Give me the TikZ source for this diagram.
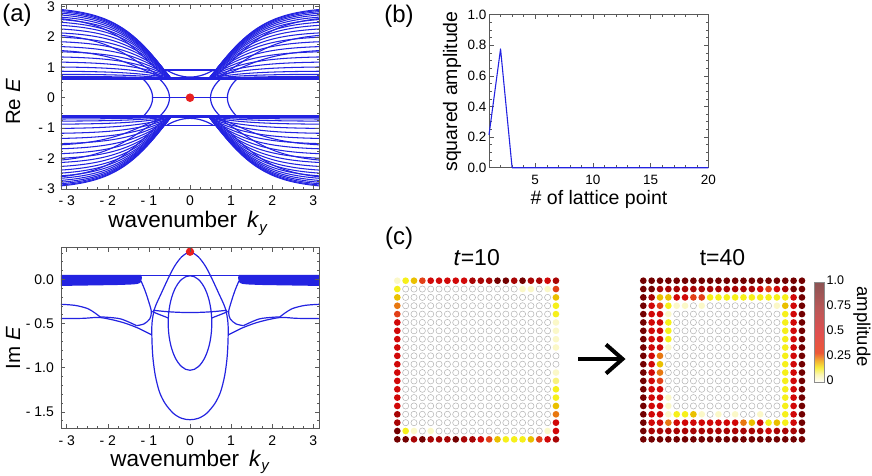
\documentclass[tikz,border=0pt]{standalone}
\usepackage{fontspec}
\setmainfont{Liberation Sans}
\definecolor{bl}{RGB}{35,35,225}
\definecolor{rd}{RGB}{232,32,32}
\definecolor{fr}{gray}{0.35}
\definecolor{lv1}{HTML}{FBF8C8}
\definecolor{lv2}{HTML}{F6F01A}
\definecolor{lv3}{HTML}{EAC000}
\definecolor{lv4}{HTML}{E87810}
\definecolor{lv5}{HTML}{E24018}
\definecolor{lv6}{HTML}{D10808}
\definecolor{lv7}{HTML}{A80404}
\definecolor{lv8}{HTML}{730000}
\definecolor{lv9}{HTML}{F8F27C}
\definecolor{cb1}{HTML}{FBF6B8}
\definecolor{cb2}{HTML}{F7EE40}
\definecolor{cb3}{HTML}{F2B030}
\definecolor{cb4}{HTML}{EC5838}
\definecolor{cb5}{HTML}{E05050}
\definecolor{cb6}{HTML}{B85858}
\definecolor{cb7}{HTML}{8C5454}
\pgfdeclareverticalshading{cbar}{100bp}{color(0bp)=(white); color(25bp)=(white); color(29bp)=(cb1); color(32.5bp)=(cb2); color(36bp)=(cb3); color(40bp)=(cb4); color(50bp)=(cb5); color(62.5bp)=(cb6); color(75bp)=(cb7); color(100bp)=(cb7)}
\tikzset{
  bcurve/.style={bl, line width=1.2pt, line join=round},
  fancurve/.style={bl, line width=1.05pt, line join=round},
  frm/.style={fr, line width=0.6pt},
  tk/.style={fr, line width=0.5pt},
  ticklab/.style={font=\fontsize{14}{14}\selectfont, inner sep=0pt},
  ticklabb/.style={font=\fontsize{13.5}{13.5}\selectfont, inner sep=0pt},
  axlab/.style={font=\fontsize{22.5}{22.5}\selectfont, inner sep=0pt},
  aylab/.style={font=\fontsize{20.5}{20.5}\selectfont, inner sep=0pt},
  blab/.style={font=\fontsize{19.5}{19.5}\selectfont, inner sep=0pt},
  panlab/.style={font=\fontsize{24}{24}\selectfont, inner sep=0pt},
  emptydot/.style={draw=black!30, line width=0.5pt, fill=white},
  reddot/.style={fill=rd},
}
\newcommand\fanquad{%
  \foreach \A/\p in {2.30/1.00,2.27/0.99,2.23/0.99,2.18/0.98,2.12/0.97,2.05/0.96,1.97/0.94,1.88/0.93,1.78/0.91,1.66/0.89,1.53/0.87,1.39/0.84,1.24/0.82,1.08/0.79,0.91/0.76,0.74/0.73,0.57/0.70,0.41/0.67,0.27/0.65,0.17/0.63,0.10/0.62,1.45/1.6,0.95/1.5,2.0/1.35}{%
    \draw[fancurve] plot[domain=-3.1416:-0.46, samples=36, smooth] (\x,{0.6+\A*pow(tanh(0.74*(-\x-0.45))/0.963,\p)});
  }%
}
\newcommand\dotgrid[3]{%
  \foreach \rw [count=\r] in {#3}{%
    \foreach \v [count=\c] in \rw {%
      \ifnum\v=0
        \draw[emptydot] ({#1+(\c-1)*8.35},{#2+(\r-1)*8.35}) circle[radius=3.1];
      \else
        \fill[fill=lv\v] ({#1+(\c-1)*8.35},{#2+(\r-1)*8.35}) circle[radius=3.35];
      \fi
    }%
  }%
}
\begin{document}
\begin{tikzpicture}[x=1pt,y=-1pt]
\useasboundingbox (0,0) rectangle (872,475);

% ---------------- (a) Re E ----------------
\begin{scope}[shift={(190,97.7)}, x=41.1pt, y=30.4pt]
  \begin{scope}
    \clip (-3.1416,-3.02) rectangle (3.1416,3.06);
    \foreach \sx in {1,-1}{\foreach \sy in {1,-1}{
      \begin{scope}[xscale=\sx, yscale=\sy]
        \fanquad
      \end{scope}}}
    \foreach \sy in {1,-1}{
      \begin{scope}[yscale=\sy]
        \draw[bl, line width=3.2pt] (-3.1416,0.62) -- (3.1416,0.62);
        \draw[bcurve] (-0.6,0.91) -- (0.6,0.91);
        \draw[bcurve] plot[domain=-0.57:0.57, samples=25, smooth] (\x,{0.68+0.23*(\x/0.57)^2});
      \end{scope}}
    \foreach \sx in {1,-1}{
      \begin{scope}[xscale=\sx]
        \draw[bcurve] plot[domain=-0.62:0.62, samples=25, smooth] ({-0.91-0.22*(\x/0.6)^2},\x);
        \draw[bcurve] plot[domain=-0.62:0.62, samples=25, smooth] ({-0.50-0.23*(\x/0.6)^2},\x);
      \end{scope}}
    \draw[bcurve] (-0.91,0) -- (0.91,0);
  \end{scope}
  \fill[reddot] (0,0) circle[radius=4.3pt];
  \draw[frm] (-3.1416,-3.02) rectangle (3.1416,3.06);
  \draw[tk] \foreach \t in {-3,...,3}{(\t,3.06) -- ++(0,-4.5pt) (\t,-3.02) -- ++(0,4.5pt)};
  \draw[tk] \foreach \t in {-3,-2.75,...,3.01}{(\t,3.06) -- ++(0,-2.5pt) (\t,-3.02) -- ++(0,2.5pt)};
  \draw[tk] \foreach \t in {-3,...,3}{(-3.1416,\t) -- ++(4.5pt,0) (3.1416,\t) -- ++(-4.5pt,0)};
  \draw[tk] \foreach \t in {-3,-2.75,...,3.01}{(-3.1416,\t) -- ++(2.5pt,0) (3.1416,\t) -- ++(-2.5pt,0)};
\end{scope}

% ---------------- (a) Im E ----------------
\begin{scope}[shift={(190,279.3)}, x=41.1pt, y=88.3pt]
  \begin{scope}
    \clip (-3.1416,-1.687) rectangle (3.1416,0.362);
    \foreach \sx in {1,-1}{
      \begin{scope}[xscale=\sx]
        \fill[bl] (-3.1416,0.05) -- (-1.2,0.05) .. controls (-1.16,0.05) and (-1.16,-0.01) .. (-1.21,-0.04) .. controls (-1.25,-0.06) and (-1.5,-0.06) .. (-1.8,-0.065) -- (-3.1416,-0.075) -- cycle;
        \draw[bcurve] plot[smooth] coordinates {(-1.19,-0.02) (-1.1,-0.12) (-1.0,-0.26) (-0.94,-0.37) (-0.98,-0.45) (-1.12,-0.505) (-1.30,-0.525)};
        \draw[bcurve] plot[smooth] coordinates {(-3.1416,-0.283) (-2.8,-0.295) (-2.5,-0.33) (-2.3,-0.385) (-2.19,-0.425)};
        \draw[bcurve] plot[smooth] coordinates {(-3.1416,-0.445) (-2.6,-0.442) (-2.19,-0.433) (-1.7,-0.48) (-1.3,-0.545) (-0.93,-0.63)};
        \draw[bcurve] plot[smooth] coordinates {(-2.19,-0.425) (-1.7,-0.447) (-1.30,-0.525)};
        \draw[bcurve] (-0.92,-0.365) .. controls (-0.75,-0.4) and (-0.62,-0.42) .. (-0.52,-0.44);
      \end{scope}}
    \draw[bcurve] (-3.1416,0.045) -- (3.1416,0.045);
    \draw[bcurve] (-0.9,-0.35) .. controls (-0.3,-0.385) and (0.3,-0.385) .. (0.9,-0.35);
    \draw[bcurve] plot[smooth cycle] coordinates {(0,0.31) (0.2,0.255) (0.36,0.16) (0.5,0.04) (0.7,-0.16) (0.86,-0.33) (0.925,-0.5) (0.925,-0.7) (0.9,-0.9) (0.84,-1.1) (0.74,-1.28) (0.6,-1.41) (0.4,-1.52) (0.2,-1.575) (0,-1.59) (-0.2,-1.575) (-0.4,-1.52) (-0.6,-1.41) (-0.74,-1.28) (-0.84,-1.1) (-0.9,-0.9) (-0.925,-0.7) (-0.925,-0.5) (-0.86,-0.33) (-0.7,-0.16) (-0.5,0.04) (-0.36,0.16) (-0.2,0.255)};
    \draw[bcurve] (0,-0.495) ellipse [x radius=0.53, y radius=0.535];
  \end{scope}
  \fill[reddot] (0,0.3125) circle[radius=4.2pt];
  \draw[frm] (-3.1416,-1.687) rectangle (3.1416,0.362);
  \draw[tk] \foreach \t in {-3,...,3}{(\t,0.362) -- ++(0,-4.5pt) (\t,-1.687) -- ++(0,4.5pt)};
  \draw[tk] \foreach \t in {-3,-2.75,...,3.01}{(\t,0.362) -- ++(0,-2.5pt) (\t,-1.687) -- ++(0,2.5pt)};
  \draw[tk] \foreach \t in {-1.5,-1,...,0}{(-3.1416,\t) -- ++(4.5pt,0) (3.1416,\t) -- ++(-4.5pt,0)};
  \draw[tk] \foreach \t in {-1.6,-1.5,...,0.35}{(-3.1416,\t) -- ++(2.5pt,0) (3.1416,\t) -- ++(-2.5pt,0)};
\end{scope}

% tick labels (a)
\foreach \t/\lab in {-3/{- 3},-2/{- 2},-1/{- 1},0/0,1/1,2/2,3/3}{
  \node[ticklab] (xta\t) at ({190+41.1*\t},201) {\lab};
  \node[ticklab] (xtb\t) at ({190+41.1*\t},440.5) {\lab};
  \node[ticklab, anchor=east] (yta\t) at (55,{97.7-30.4*\t}) {\lab};
}
\foreach \t/\lab/\nm in {0/{0.0}/a,-0.5/{- 0.5}/b,-1/{- 1.0}/c,-1.5/{- 1.5}/d}{
  \node[ticklab, anchor=east] (ytb\nm) at (54,{279.3-88.3*\t}) {\lab};
}
\node[axlab, anchor=base] (xlabA) at (188,227.5) {wavenumber\hspace{0.45em}\textit{k}\raisebox{-0.22em}{\fontsize{15}{15}\selectfont\textit{y}}};
\node[axlab, anchor=base] (xlabB) at (190,466) {wavenumber\hspace{0.45em}\textit{k}\raisebox{-0.22em}{\fontsize{15}{15}\selectfont\textit{y}}};
\node[aylab, rotate=90, anchor=base] (ylabA) at (20,102) {Re \textit{E}};
\node[aylab, rotate=90, anchor=base] (ylabB) at (20,348) {Im \textit{E}};
\node[panlab] (pa) at (17,15) {(a)};

% ---------------- (b) ----------------
\begin{scope}[shift={(489,167.7)}, x=11.55pt, y=153.2pt]
  \draw[frm] (0,0) rectangle (19,1);
  \draw[tk] \foreach \t in {4,9,14,19}{(\t,0) -- ++(0,4.5pt) (\t,1) -- ++(0,-4.5pt)};
  \draw[tk] \foreach \t in {0,...,19}{(\t,0) -- ++(0,2.5pt) (\t,1) -- ++(0,-2.5pt)};
  \draw[tk] \foreach \t in {0,0.2,...,1.01}{(0,\t) -- ++(4.5pt,0) (19,\t) -- ++(-4.5pt,0)};
  \draw[tk] \foreach \t in {0,0.05,...,1.01}{(0,\t) -- ++(2.5pt,0) (19,\t) -- ++(-2.5pt,0)};
  \draw[bcurve, line width=1.1pt] (0,0.214) -- (1,0.775) -- (2,0) -- (19,0);
\end{scope}
\foreach \v/\lab [count=\i] in {0/{0.0},0.2/{0.2},0.4/{0.4},0.6/{0.6},0.8/{0.8},1/{1.0}}{
  \node[ticklabb, anchor=east] (ybt\i) at (486.5,{167.7-153.2*\v}) {\lab};
}
\foreach \n in {5,10,15,20}{
  \node[ticklabb] (xbt\n) at ({489+11.55*(\n-1)},179.5) {\n};
}
\node[blab, rotate=90, anchor=base] (ylabb) at (457,91.5) {squared amplitude};
\node[blab, anchor=base] (xlabb) at (599,204) {\# of lattice point};
\node[panlab] (pb) at (399,16) {(b)};

% ---------------- (c) ----------------
\node[panlab] (pc) at (399,238) {(c)};
\node[font=\fontsize{23}{23}\selectfont, inner sep=0pt, anchor=base] (t10) at (476.7,265) {\textit{t}=10};
\node[font=\fontsize{23}{23}\selectfont, inner sep=0pt, anchor=base] (t40) at (722.5,265) {t=40};

\dotgrid{397.3}{280.7}{
{1,2,3,5,6,6,6,6,6,7,7,7,8,8,7,8,7,7,6,7},
{2,0,0,0,0,0,0,0,0,0,0,0,0,0,0,1,1,0,1,5},
{3,0,0,0,0,0,0,0,0,0,0,0,0,0,0,0,0,0,0,3},
{4,0,0,0,0,0,0,0,0,0,0,0,0,0,0,0,0,0,0,2},
{5,0,0,0,0,0,0,0,0,0,0,0,0,0,0,0,0,0,0,2},
{6,0,0,0,0,0,0,0,0,0,0,0,0,0,0,0,0,0,0,1},
{6,0,0,0,0,0,0,0,0,0,0,0,0,0,0,0,0,0,0,1},
{6,0,0,0,0,0,0,0,0,0,0,0,0,0,0,0,0,0,0,1},
{6,0,0,0,0,0,0,0,0,0,0,0,0,0,0,0,0,0,0,1},
{6,0,0,0,0,0,0,0,0,0,0,0,0,0,0,0,0,0,0,0},
{6,0,0,0,0,0,0,0,0,0,0,0,0,0,0,0,0,0,0,0},
{6,0,0,0,0,0,0,0,0,0,0,0,0,0,0,0,0,0,0,1},
{6,0,0,0,0,0,0,0,0,0,0,0,0,0,0,0,0,0,0,9},
{6,0,0,0,0,0,0,0,0,0,0,0,0,0,0,0,0,0,0,2},
{6,0,0,0,0,0,0,0,0,0,0,0,0,0,0,0,0,0,0,2},
{6,0,0,0,0,0,0,0,0,0,0,0,0,0,0,0,0,0,0,3},
{7,0,0,0,0,0,0,0,0,0,0,0,0,0,0,0,0,0,0,4},
{7,0,0,0,0,0,0,0,0,0,0,0,0,0,0,0,0,0,0,6},
{8,2,1,0,1,0,0,0,0,0,0,0,0,0,0,0,0,0,1,6},
{8,8,7,8,7,7,7,8,7,7,6,5,3,2,2,2,3,5,6,7}}

\dotgrid{643.3}{280.7}{
{8,8,8,8,8,8,8,8,8,8,8,8,8,8,8,8,8,8,8,8},
{8,8,7,7,7,7,7,7,7,7,7,7,7,7,6,5,6,7,8,8},
{8,7,3,3,6,6,5,5,2,2,2,2,2,2,2,2,2,2,6,8},
{8,6,5,2,1,1,0,1,0,0,0,0,0,0,0,0,1,3,6,8},
{8,6,6,1,0,0,0,0,0,0,0,0,0,0,0,0,0,2,6,8},
{8,6,6,2,0,0,0,0,0,0,0,0,0,0,0,0,0,2,6,8},
{8,6,6,2,0,0,0,0,0,0,0,0,0,0,0,0,0,2,6,8},
{8,6,6,2,0,0,0,0,0,0,0,0,0,0,0,0,0,2,6,8},
{8,6,6,1,0,0,0,0,0,0,0,0,0,0,0,0,0,2,6,8},
{8,6,4,0,0,0,0,0,0,0,0,0,0,0,0,0,0,2,6,8},
{8,6,3,0,0,0,0,0,0,0,0,0,0,0,0,0,0,2,6,8},
{8,6,4,0,0,0,0,0,0,0,0,0,0,0,0,0,0,2,6,8},
{8,6,5,0,0,0,0,0,0,0,0,0,0,0,0,0,0,2,6,8},
{8,6,6,0,0,0,0,0,0,0,0,0,0,0,0,0,0,2,6,8},
{8,6,6,1,0,0,0,0,0,0,0,0,0,0,0,0,0,2,6,8},
{8,6,6,1,0,0,0,0,0,0,0,0,0,0,0,0,0,2,6,8},
{8,6,6,1,2,2,3,1,0,1,0,1,0,0,1,0,0,2,6,8},
{8,6,6,4,6,6,6,6,6,6,6,6,4,3,6,2,3,2,6,8},
{8,7,7,7,7,7,7,7,7,7,7,7,7,7,7,6,7,7,7,8},
{8,8,8,8,8,8,8,8,8,8,8,8,8,8,8,8,8,8,8,8}}

% arrow
\coordinate (arrS) at (578,359);
\coordinate (arrE) at (621,359);
\draw[line width=4pt] (arrS) -- (arrE);
\draw[line width=4pt, line join=miter] ([shift={(-15,-14.5)}]arrE) -- ([shift={(1.5,0)}]arrE) -- ([shift={(-15,14.5)}]arrE);

% colorbar
\shade[shading=cbar] (814.3,282.7) rectangle (824.3,382.7);
\draw[black!45, line width=0.6pt] (814.3,282.7) rectangle (824.3,382.7);
\foreach \v/\lab [count=\i] in {1/{1.0},0.75/{0.75},0.5/{0.5},0.25/{0.25},0/{0}}{
  \node[font=\fontsize{12.5}{12.5}\selectfont, inner sep=0pt, anchor=west] (cbl\i) at (826.5,{380-100*\v}) {\lab};
}
\node[font=\fontsize{18.5}{18.5}\selectfont, inner sep=0pt, rotate=-90] (amp) at (862,326.7) {amplitude};
\end{tikzpicture}
\end{document}
